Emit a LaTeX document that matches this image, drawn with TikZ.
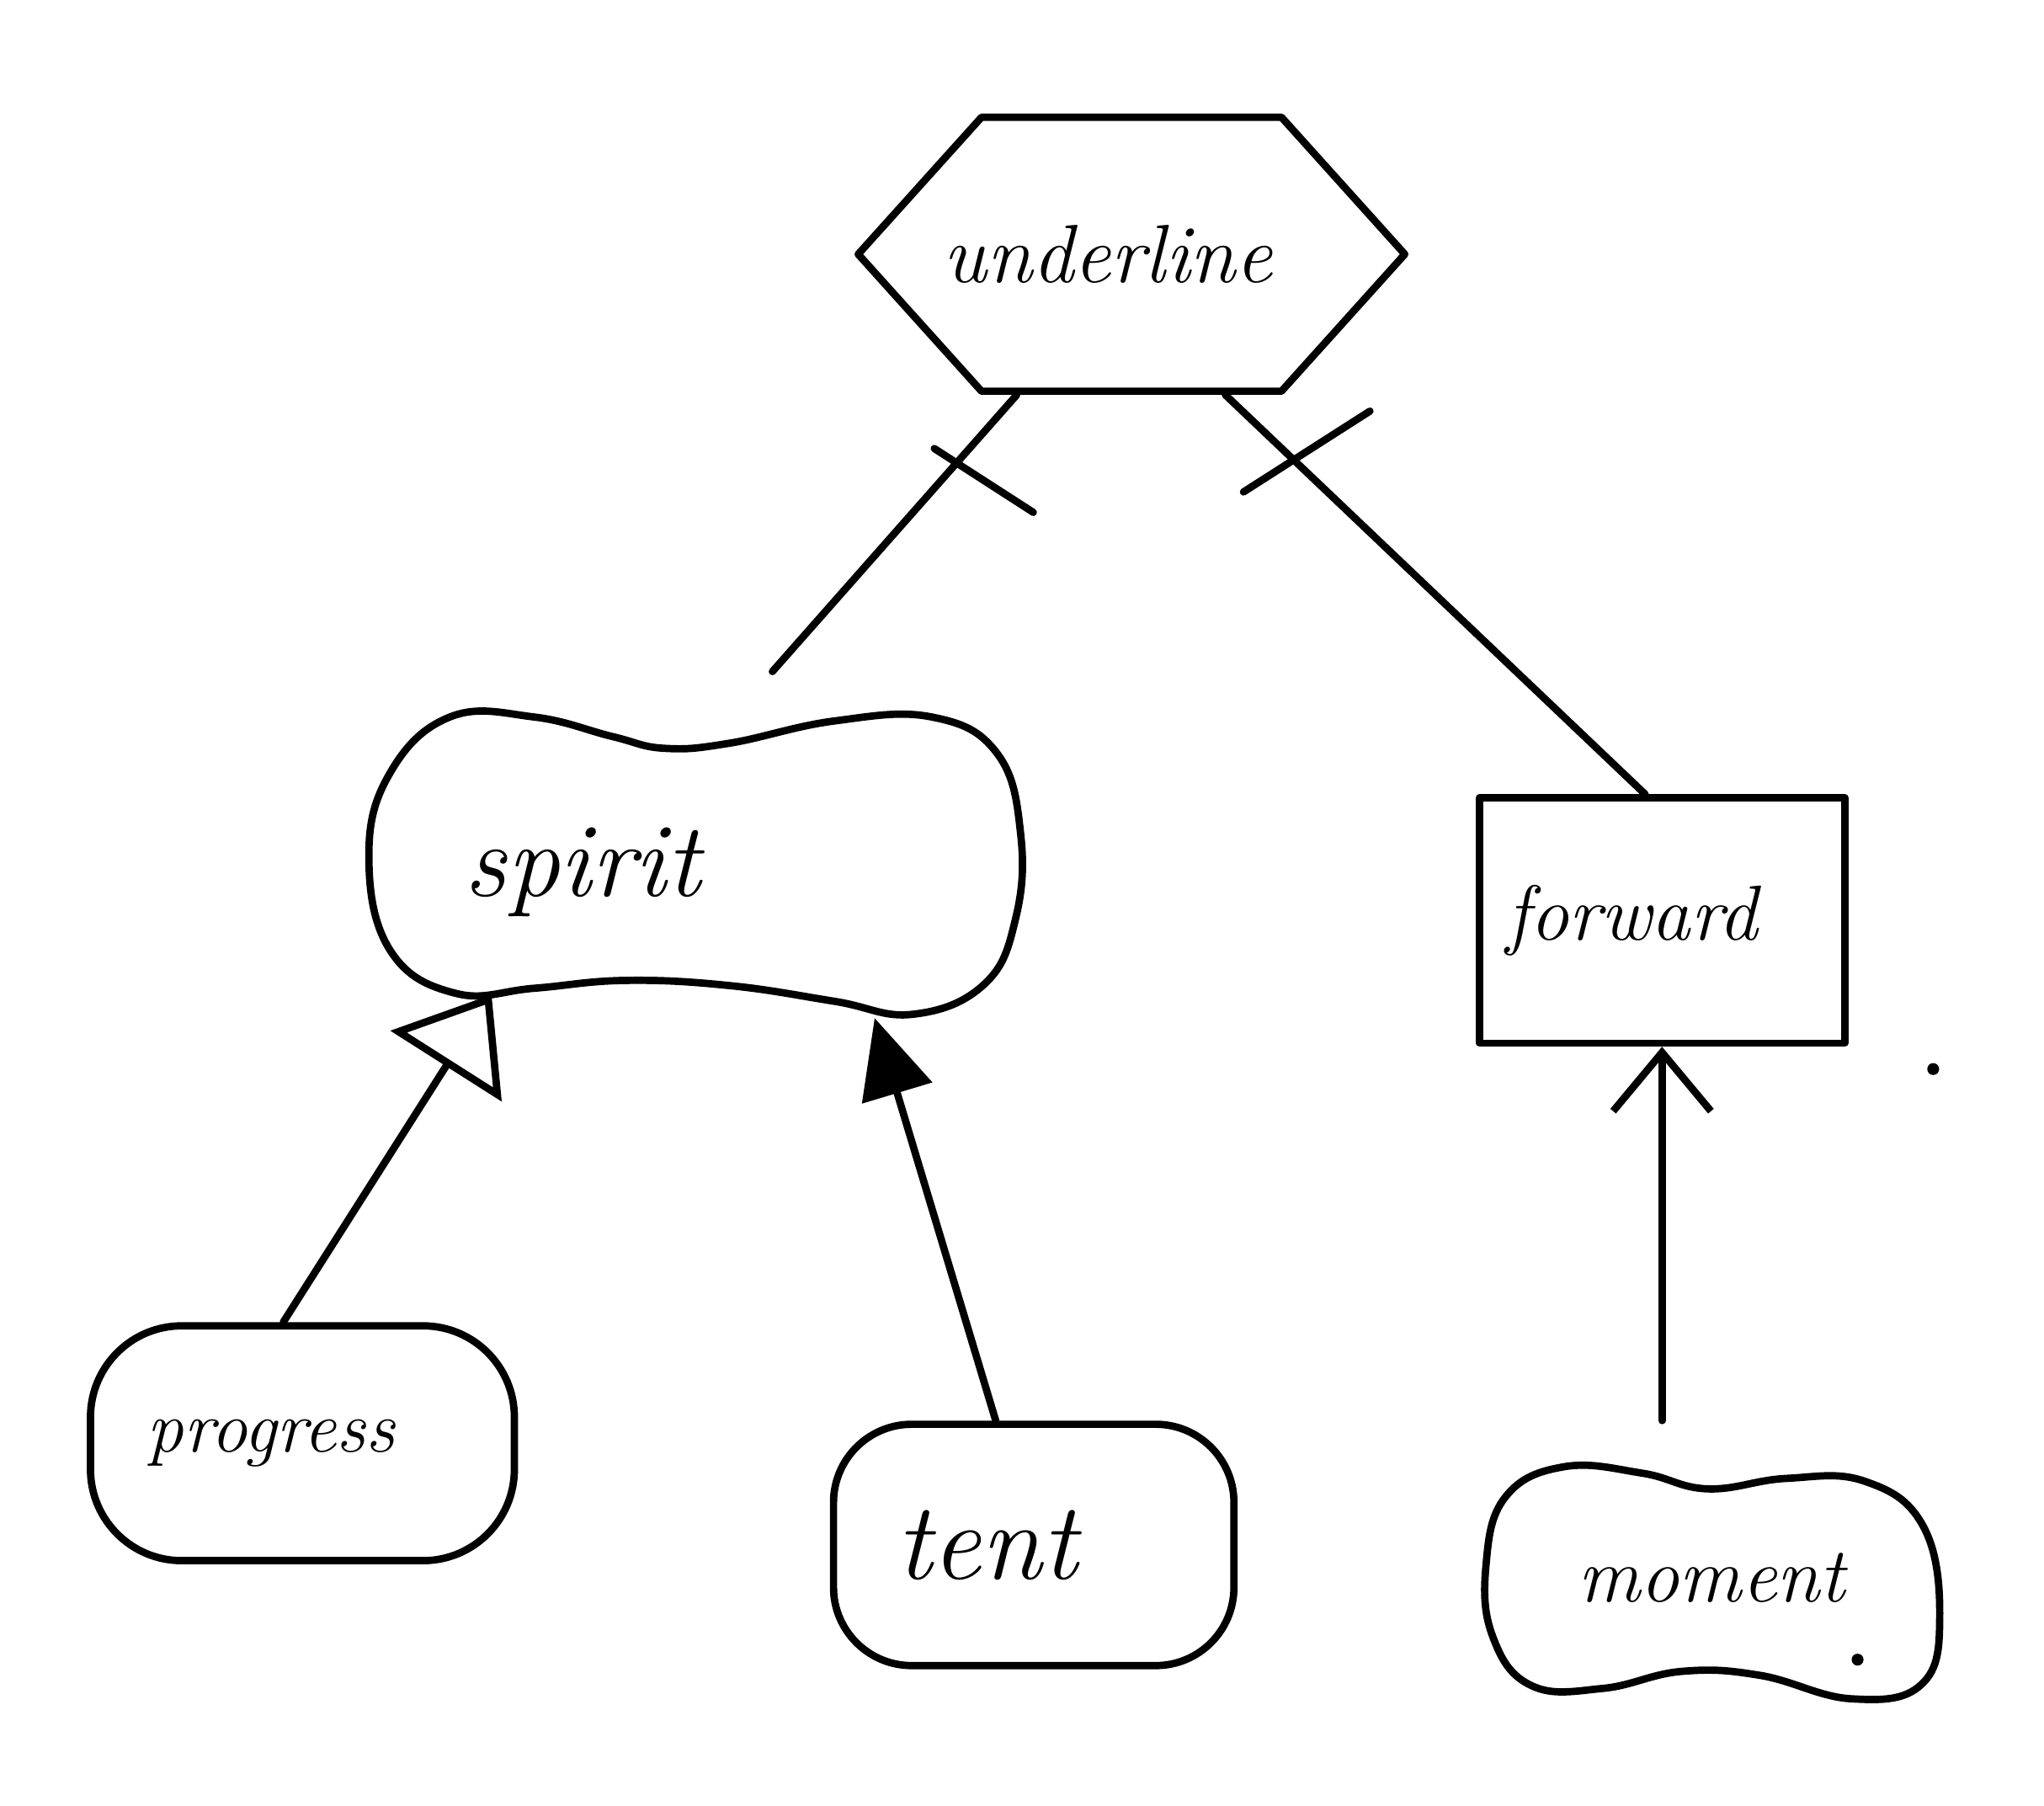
\documentclass[tikz,border=0pt]{standalone}
\usepackage{tikz}
\usetikzlibrary{arrows.meta,calc,positioning,shapes.symbols}
\tikzset{%
	hexbox/.style   = {draw, signal, signal to=east and west, signal pointer angle=96, minimum height=2.1cm, inner sep=0pt},
	pillbox/.style  = {draw, rectangle, rounded corners=0.7cm, inner sep=0pt},
	framebox/.style = {draw, rectangle, inner sep=0pt},
	beanbox/.style  = {rectangle, inner sep=0pt},
	hand/.style     = {line width=1.6pt, line cap=round, line join=round},
	word/.style     = {font=\itshape\fontsize{#1}{#1}\selectfont},
	opentri/.style  = {-{Triangle[open,length=6.5mm,width=10mm]}},
	solidtri/.style = {-{Triangle[length=6mm,width=5.5mm]}},
	barb/.style     = {-{Straight Barb[length=4.5mm,width=7.5mm]}},
}
\begin{document}
\begin{tikzpicture}[x=0.01cm,y=-0.01cm,hand]
	\useasboundingbox (0,0) rectangle (1568,1385);
	
	\node[hexbox,word=18] (underline) at (868,195) {\makebox[2.3cm]{underline\kern0.36cm}};
	\node[beanbox,minimum width=5cm,minimum height=2.42cm,word=23] (spirit) at (533,669) {spirit\kern1.72cm};
	\node[framebox,minimum width=2.8cm,minimum height=1.88cm,word=17] (forward) at (1275,706) {forward\kern0.46cm};
	\node[pillbox,minimum width=3.25cm,minimum height=1.8cm,word=16] (progress) at (232,1107) {progress\kern0.48cm};
	\node[pillbox,rounded corners=0.6cm,minimum width=3.07cm,minimum height=1.85cm,word=24] (tent) at (793,1185) {tent\kern0.72cm};
	\node[beanbox,minimum width=3.5cm,minimum height=1.85cm,word=17] (moment) at (1313,1210) {moment};
	
	% bean outlines
	\draw plot[smooth cycle, tension=0.7] coordinates {(283,660) (298,595) (345,550) (410,550) (470,565) (510,574) (560,570) (640,553) (715,550) (765,578) (783,640) (779,705) (755,755) (700,778) (640,768) (560,756) (480,752) (410,758) (350,762) (300,730)};
	\draw plot[smooth cycle, tension=0.7] coordinates {(1140,1200) (1155,1148) (1200,1125) (1260,1130) (1310,1142) (1370,1134) (1430,1136) (1475,1170) (1488,1240) (1474,1292) (1420,1303) (1350,1285) (1290,1282) (1230,1295) (1175,1293) (1145,1255)};
	
	% top links, crossed
	\draw[shorten >=0.4cm] ($(underline.south)+(-88,0)$) -- coordinate[pos=0.207] (cut-l) ($(spirit.north)+(33,0)$);
	\draw (cut-l) ++(-19,-9) -- ++(76,49);
	\draw ($(underline.south)+(72,0)$) -- coordinate[pos=0.155] (cut-r) ($(forward.north)+(-13,0)$);
	\draw (cut-r) ++(-36,27) -- ++(97,-62);
	
	% lower links
	\draw[opentri] (progress.99) -- ($(spirit.south west)+(97,-30)$);
	\draw[solidtri] (tent.107) -- ($(spirit.south east)+(-115,-12)$);
	\draw[barb,shorten <=0.25cm] (moment.north -| forward.south) -- (forward.south);
	
	\fill (1483,820) circle (1.3pt);
	\fill (1425,1273) circle (1.3pt);
	
\end{tikzpicture}
\end{document}
